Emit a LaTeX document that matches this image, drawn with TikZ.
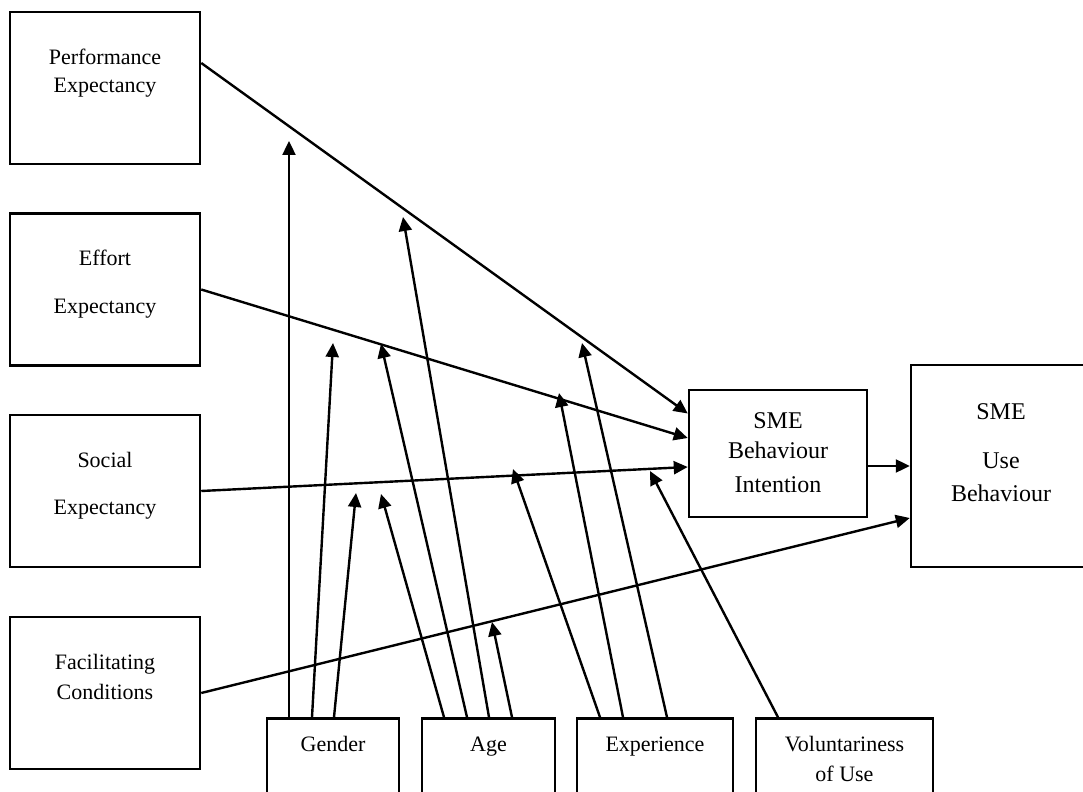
\documentclass[tikz,border=0pt]{standalone}
\usepackage{fontspec}
\setmainfont{Liberation Serif}
\usetikzlibrary{arrows.meta,positioning}
\tikzset{
  box/.style={draw, line width=1.25pt, inner sep=0pt},
  lbox/.style={box, minimum width=95pt, minimum height=76pt},
  mbox/.style={box, minimum height=56pt},
  txt/.style={align=center, inner sep=0pt, font=\fontsize{11}{15}\selectfont},
  bigtxt/.style={txt, font=\fontsize{12}{15}\selectfont},
  link/.style={line width=1.2pt, -{Triangle[length=7pt,width=6.5pt]}},
}
\begin{document}
\begin{tikzpicture}[x=0.5pt,y=-0.5pt]
  \useasboundingbox (0,0) rectangle (1083,792);
  \clip (0,0) rectangle (1083,792);
  \node[lbox] (pe) at (105,88) {};
  \node[lbox] (ee) at (105,289.5) {};
  \node[lbox] (se) at (105,491) {};
  \node[lbox] (fc) at (105,693) {};
  \node[box, minimum width=89pt, minimum height=63.5pt] (bi) at (778,453.5) {};
  \node[box, minimum width=90pt, minimum height=101pt] (ub) at (1001,466) {};
  \node[mbox, minimum width=66pt] (gen) at (333,774.5) {};
  \node[mbox, minimum width=66.5pt] (age) at (488.5,774.5) {};
  \node[mbox, minimum width=78pt] (exp) at (655,774.5) {};
  \node[mbox, minimum width=88.5pt] (vol) at (844.5,774.5) {};
  \node[txt, below=19pt of pe.north] (pe-t) {Performance\\[-1pt]Expectancy};
  \node[txt, below=18.5pt of ee.north] (ee-t) {Effort\\[9pt]Expectancy};
  \node[txt, below=19pt of se.north] (se-t) {Social\\[8.5pt]Expectancy};
  \node[txt, below=19pt of fc.north] (fc-t) {Facilitating\\Conditions};
  \node[bigtxt, below=11.5pt of bi.north] (bi-t) {SME\\Behaviour\\[2pt]Intention};
  \node[bigtxt, below=19.5pt of ub.north] (ub-t) {SME\\[9.5pt]Use\\[1.5pt]Behaviour};
  \node[txt, below=9.5pt of gen.north] (gen-t) {Gender};
  \node[txt, below=9.5pt of age.north] (age-t) {Age};
  \node[txt, below=9.5pt of exp.north] (exp-t) {Experience};
  \node[txt, below=9.5pt of vol.north] (vol-t) {Voluntariness\\of Use};
  \draw[link] ([yshift=12.5pt]pe.east) -- ([yshift=20pt]bi.west);
  \draw[link] (ee.east) -- ([yshift=7.75pt]bi.west);
  \draw[link] (se.east) -- ([yshift=-6.75pt]bi.west);
  \draw[link] (fc.east) -- ([yshift=-26pt]ub.west);
  \draw[link] (bi.east |- ub.west) -- (ub.west);
  \coordinate (pe-gen) at (289,141);
  \coordinate (ee-gen) at (333,343);
  \coordinate (se-gen) at (356,493);
  \coordinate (se-age) at (381,494);
  \coordinate (ee-age) at (381,344);
  \coordinate (pe-age) at (403,217);
  \coordinate (fc-age) at (492,622);
  \coordinate (se-exp) at (513,469);
  \coordinate (ee-exp) at (559,393);
  \coordinate (pe-exp) at (582,343);
  \coordinate (se-vol) at (650,471);
  \draw[link] ([xshift=-22pt]gen.north) -- (pe-gen);
  \draw[link] ([xshift=-10.5pt]gen.north) -- (ee-gen);
  \draw[link] ([xshift=0.5pt]gen.north) -- (se-gen);
  \draw[link] ([xshift=-22.25pt]age.north) -- (se-age);
  \draw[link] ([xshift=-10.75pt]age.north) -- (ee-age);
  \draw[link] ([xshift=0.25pt]age.north) -- (pe-age);
  \draw[link] ([xshift=11.75pt]age.north) -- (fc-age);
  \draw[link] ([xshift=-27.5pt]exp.north) -- (se-exp);
  \draw[link] ([xshift=-16pt]exp.north) -- (ee-exp);
  \draw[link] ([xshift=6pt]exp.north) -- (pe-exp);
  \draw[link] ([xshift=-33.25pt]vol.north) -- (se-vol);
\end{tikzpicture}
\end{document}
